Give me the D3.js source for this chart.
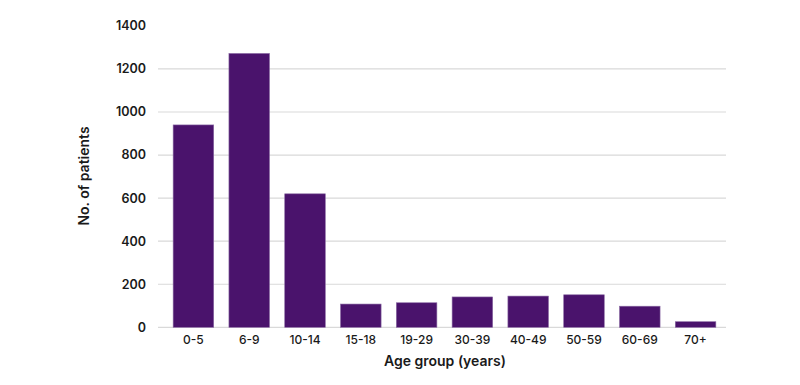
<!DOCTYPE html>
<html>
<head>
<meta charset="utf-8">
<script src="https://cdn.jsdelivr.net/npm/d3@7"></script>
<style>
  body { margin: 0; background: #fff; }
  text { font-family: Inter, "Noto Sans", sans-serif; fill: #1a1a1a; }
</style>
</head>
<body>
<div class="chart"></div>
<script>
const ageGroups = ["0-5", "6-9", "10-14", "15-18", "19-29", "30-39", "40-49", "50-59", "60-69", "70+"];
const patients = [940, 1272, 620, 108, 114, 141, 145, 151, 98, 26];
const yTicks = [0, 200, 400, 600, 800, 1000, 1200, 1400];

const width = 800;
const height = 385;

const svg = d3
  .select(".chart")
  .append("svg")
  .attr("width", width)
  .attr("height", height);

const x = d3
  .scaleBand()
  .domain(ageGroups)
  .range([165.5, 723.5])
  .paddingInner(0.273)
  .paddingOuter(0.137);

const y = d3.scaleLinear().domain([0, 1400]).range([327.3, 25.9]);

// gridlines (none drawn at the top tick)
svg
  .selectAll(".grid")
  .data(yTicks.filter((d) => d < 1400))
  .enter()
  .append("line")
  .attr("x1", 158)
  .attr("x2", 726)
  .attr("y1", (d) => y(d))
  .attr("y2", (d) => y(d))
  .attr("stroke", "#d9d9d9")
  .attr("stroke-width", 1.2);

// y tick labels
svg
  .selectAll(".ylab")
  .data(yTicks)
  .enter()
  .append("text")
  .attr("x", 146)
  .attr("y", (d) => y(d))
  .attr("dy", "0.35em")
  .attr("text-anchor", "end")
  .attr("font-size", 12.5)
  .attr("font-weight", 600)
  .text((d) => d);

// bars
svg
  .selectAll(".bar")
  .data(ageGroups)
  .enter()
  .append("rect")
  .attr("x", (d) => x(d))
  .attr("y", (d, i) => y(patients[i]))
  .attr("width", x.bandwidth())
  .attr("height", (d, i) => y(0) - y(patients[i]))
  .attr("fill", "#4a136c")
  .attr("stroke", "#8a6aa3")
  .attr("stroke-width", 0.6);

// x tick labels
svg
  .selectAll(".xlab")
  .data(ageGroups)
  .enter()
  .append("text")
  .attr("x", (d) => x(d) + x.bandwidth() / 2)
  .attr("y", 344)
  .attr("text-anchor", "middle")
  .attr("font-size", 12)
  .attr("font-weight", 500)
  .text((d) => d);

// axis titles
svg
  .append("text")
  .attr("x", 445)
  .attr("y", 366)
  .attr("text-anchor", "middle")
  .attr("font-size", 14)
  .attr("font-weight", 600)
  .text("Age group (years)");

svg
  .append("text")
  .attr("transform", "translate(89,176) rotate(-90)")
  .attr("text-anchor", "middle")
  .attr("font-size", 14)
  .attr("font-weight", 600)
  .text("No. of patients");
</script>
</body>
</html>
